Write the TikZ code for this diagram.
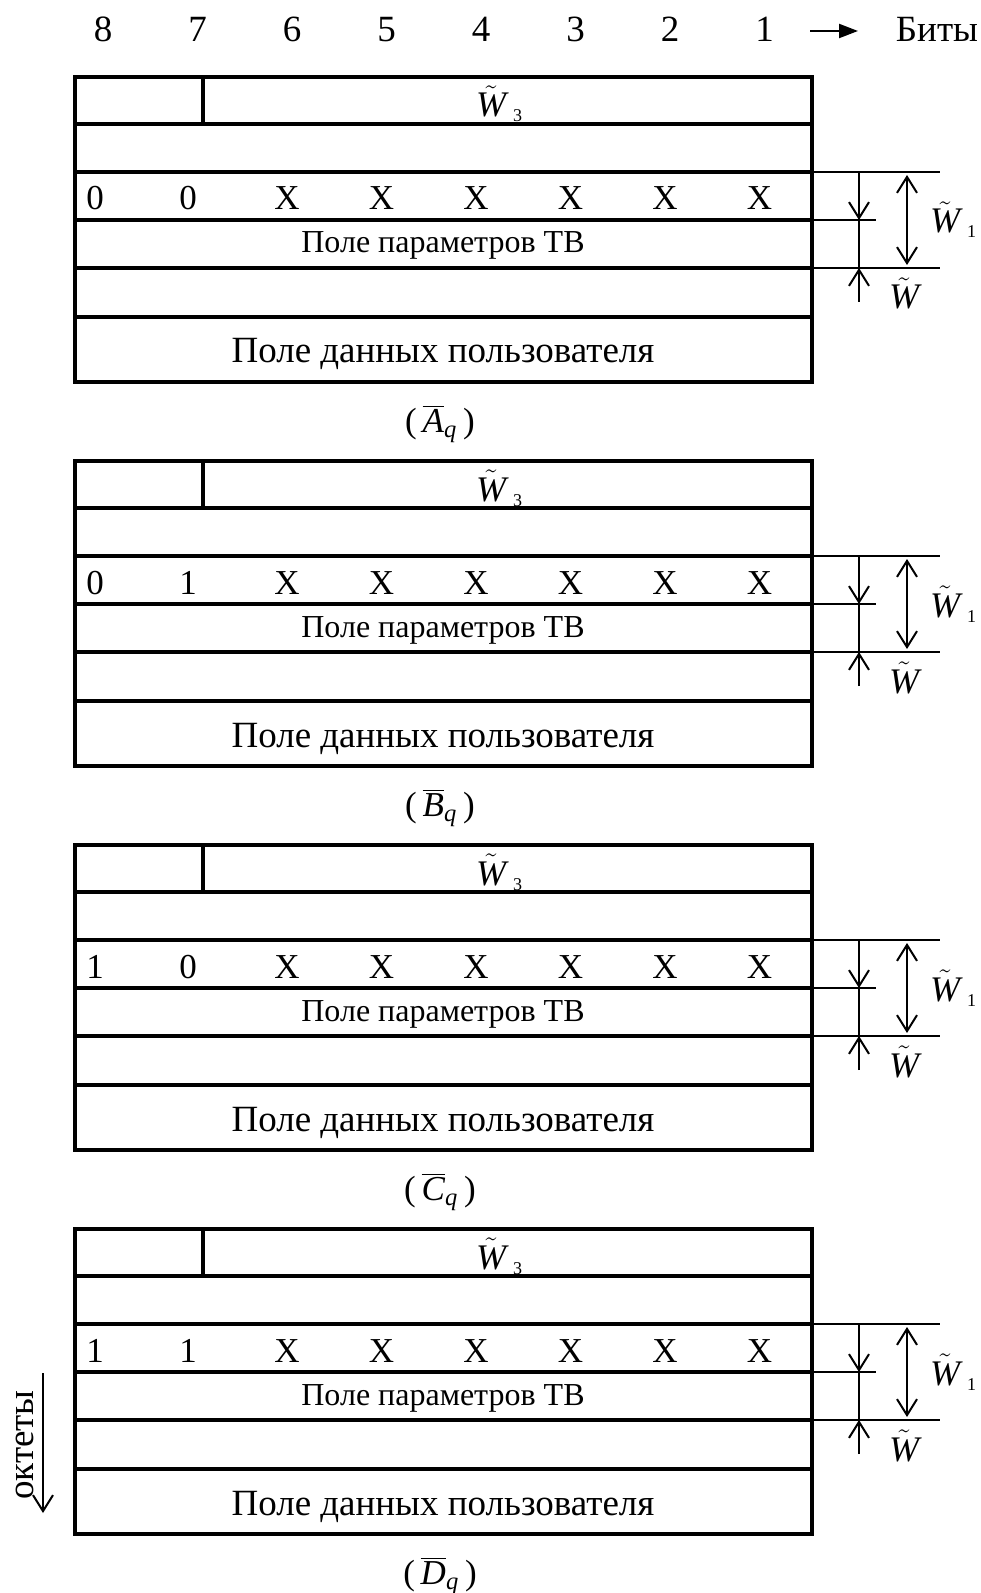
\documentclass[tikz,border=0pt]{standalone}
\usepackage{fontspec}
\setmainfont{Liberation Serif}
\usetikzlibrary{arrows.meta}

% W with a tilde, and the same with a lowered small index
\newcommand\tw{$\tilde{\mathit{W}}$}
\newcommand\wlabel[1]{\tw\hspace{3.5pt}\raisebox{-2.5pt}{\fontsize{9}{9}\selectfont #1}}

\tikzset{
  frame/.style={line width=1.6pt},
  guide/.style={line width=0.7pt},
  dimarrow/.style={line width=1pt,-{Straight Barb[length=8pt,width=10pt]}},
  dimboth/.style={line width=1pt,{Straight Barb[length=8pt,width=10pt]}-{Straight Barb[length=8pt,width=10pt]},
    shorten >=1.5pt,shorten <=1.5pt},
  bigtext/.style={font=\fontsize{18.5}{20}\selectfont,anchor=base,inner sep=0pt},
  bittext/.style={font=\fontsize{17.5}{20}\selectfont,anchor=base,inner sep=0pt},
  midtext/.style={font=\fontsize{16}{18}\selectfont,anchor=base,inner sep=0pt},
  symtext/.style={font=\fontsize{18}{20}\selectfont,anchor=base,inner sep=0pt},
  captext/.style={font=\fontsize{17.5}{20}\selectfont,anchor=base,inner sep=0pt},
}

\begin{document}
\begin{tikzpicture}[x=0.5pt,y=-0.5pt]
\useasboundingbox (0,0) rectangle (980,1593);

% bit numbering above the formats
\foreach \n [count=\i from 0] in {8,7,6,5,4,3,2,1}
  \node[bigtext] (bit\n) at (103+94.5*\i,42) {\n};
\coordinate (bitsfrom) at (810,31);
\coordinate (bitsto) at (858,31);
\draw[line width=1.1pt,-{Triangle[length=9.5pt,width=7pt]}] (bitsfrom) -- (bitsto);
\node[bigtext] (bits) at (937,42) {Биты};

% octet direction
\node[bigtext,rotate=90] (octets) at (33,1445) {октеты};
\coordinate (octfrom) at (43,1373);
\coordinate (octto) at (43,1513);
\draw[dimarrow] (octfrom) -- (octto);

% the four header formats
\foreach \k/\ba/\bb/\L in {0/0/0/A,1/0/1/B,2/1/0/C,3/1/1/D}{
  \begin{scope}[shift={(0,384*\k)}]
    % octet rows
    \draw[frame] (75,77) rectangle (812,382);
    \draw[frame] (75,124) -- (812,124)
                 (75,172) -- (812,172)
                 (75,220) -- (812,220)
                 (75,268) -- (812,268)
                 (75,317) -- (812,317)
                 (203,77) -- (203,124);
    \node[symtext] (wthree\k) at (499,117) {\wlabel{3}};
    \node[bittext] (bita\k) at (95,210) {\ba};
    \node[bittext] (bitb\k) at (188,210) {\bb};
    \foreach \j in {0,...,5}
      \node[bittext] (x\k\j) at (287+94.5*\j,210) {X};
    \node[midtext] (params\k) at (443,253) {Поле параметров ТВ};
    \node[bigtext] (data\k) at (443,363) {Поле данных пользователя};
    \node[captext] (cap\k) at (440,432) {(\,$\overline{\mathit{\L}}_{\mathit{q}}$\,)};

    % length marks on the right
    \coordinate (ga\k) at (812,172);
    \coordinate (gb\k) at (812,220);
    \coordinate (gc\k) at (812,268);
    \coordinate (gae\k) at (940,172);
    \coordinate (gbe\k) at (876,220);
    \coordinate (gce\k) at (940,268);
    \draw[guide] (ga\k) -- (gae\k) (gb\k) -- (gbe\k) (gc\k) -- (gce\k);
    \coordinate (da\k) at (859,172);
    \coordinate (db\k) at (859,220);
    \coordinate (dc\k) at (859,268);
    \coordinate (dd\k) at (859,302);
    \draw[dimarrow] (da\k) -- (db\k);
    \draw[guide] (db\k) -- (dc\k);
    \draw[dimarrow] (dd\k) -- (dc\k);
    \coordinate (ea\k) at (907,172);
    \coordinate (eb\k) at (907,268);
    \draw[dimboth] (ea\k) -- (eb\k);
    \node[symtext] (wone\k) at (953,233) {\wlabel{1}};
    \node[symtext] (w\k) at (904,309) {\tw};
  \end{scope}
}
\end{tikzpicture}
\end{document}
